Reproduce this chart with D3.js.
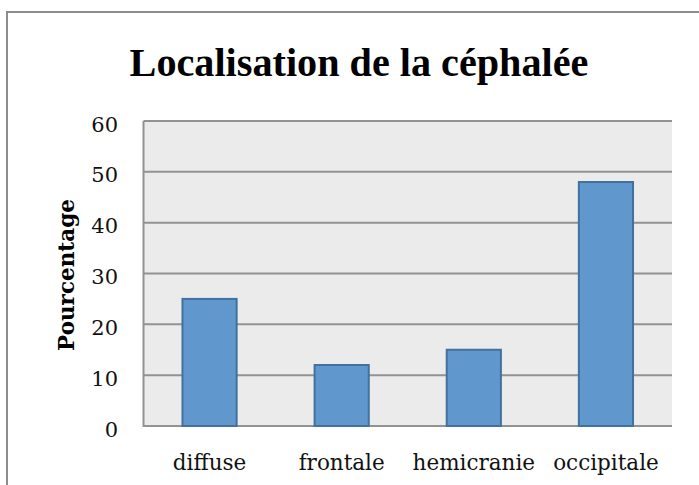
<!DOCTYPE html>
<html><head><meta charset="utf-8">
<script src="https://cdn.jsdelivr.net/npm/d3@7"></script>
<style>html,body{margin:0;padding:0;background:#fff;}svg{display:block;}</style>
</head><body>
<script>
const categories = ["diffuse", "frontale", "hemicranie", "occipitale"];
const values = [25, 12, 15, 48];
const yTicks = [0, 10, 20, 30, 40, 50, 60];
const title = "Localisation de la céphalée";
const yLabel = "Pourcentage";

const W = 699, H = 485;
const svg = d3.select("body").append("svg").attr("width", W).attr("height", H);
const font = "'DejaVu Serif', 'Liberation Serif', serif";
const titleFont = "'Liberation Serif', 'DejaVu Serif', serif";

// outer chart border
svg.append("path").attr("d", `M7,${H+2}V12H${W+2}`).attr("fill","none").attr("stroke","#8c8c8c").attr("stroke-width",2);

const m = {left: 143.5, right: 672, top: 121, bottom: 426};
const x = d3.scaleBand().domain(categories).range([m.left, m.right]).paddingInner(0.59).paddingOuter(0.295);
const y = d3.scaleLinear().domain([0, 60]).range([m.bottom, m.top]);

svg.append("rect").attr("x", m.left).attr("y", m.top).attr("width", m.right-m.left).attr("height", m.bottom-m.top).attr("fill","#ebebeb");

// gridlines
svg.append("g").selectAll("line").data(yTicks).join("line")
  .attr("x1", m.left).attr("x2", m.right).attr("y1", d=>y(d)).attr("y2", d=>y(d))
  .attr("stroke","#929292").attr("stroke-width",2);
svg.append("line").attr("x1", m.left).attr("x2", m.left).attr("y1", m.top).attr("y2", m.bottom+1)
  .attr("stroke","#929292").attr("stroke-width",2);

// bars
svg.append("g").selectAll("rect").data(values).join("rect")
  .attr("x", (d,i)=>x(categories[i])).attr("y", d=>y(d))
  .attr("width", x.bandwidth()).attr("height", d=>y(0)-y(d))
  .attr("fill","#6097cc").attr("stroke","#41719f").attr("stroke-width",2);

// y axis tick labels
const yAxis = d3.axisLeft(y).tickValues(yTicks).tickSize(0).tickPadding(0);
const gy = svg.append("g").attr("transform", `translate(118,2.5)`).call(yAxis);
gy.select(".domain").remove();
gy.selectAll("text").attr("font-family", font).attr("font-size", 21).attr("fill","#111").attr("dy","0.36em");

// x axis labels
const xAxis = d3.axisBottom(x).tickSize(0).tickPadding(0);
const gx = svg.append("g").attr("transform", `translate(0,469.5)`).call(xAxis);
gx.select(".domain").remove();
gx.selectAll("text").attr("font-family", font).attr("font-size", 21.5).attr("fill","#111").attr("y", 0).attr("dy","0");

// title
const t = svg.append("text").attr("x", 359).attr("y", 75.5).attr("text-anchor","middle")
  .attr("font-family", titleFont).attr("font-weight","bold")
  .attr("font-size", 34).attr("fill","#000").text(title);
const tl = t.node().getComputedTextLength();
t.attr("font-size", 34 * 459 / tl);

// y label
svg.append("text").attr("transform","translate(73.5,275) rotate(-90)").attr("text-anchor","middle")
  .attr("font-family", font).attr("font-weight","bold").attr("font-size", 21.5).attr("fill","#000").text(yLabel);
</script>
</body></html>
